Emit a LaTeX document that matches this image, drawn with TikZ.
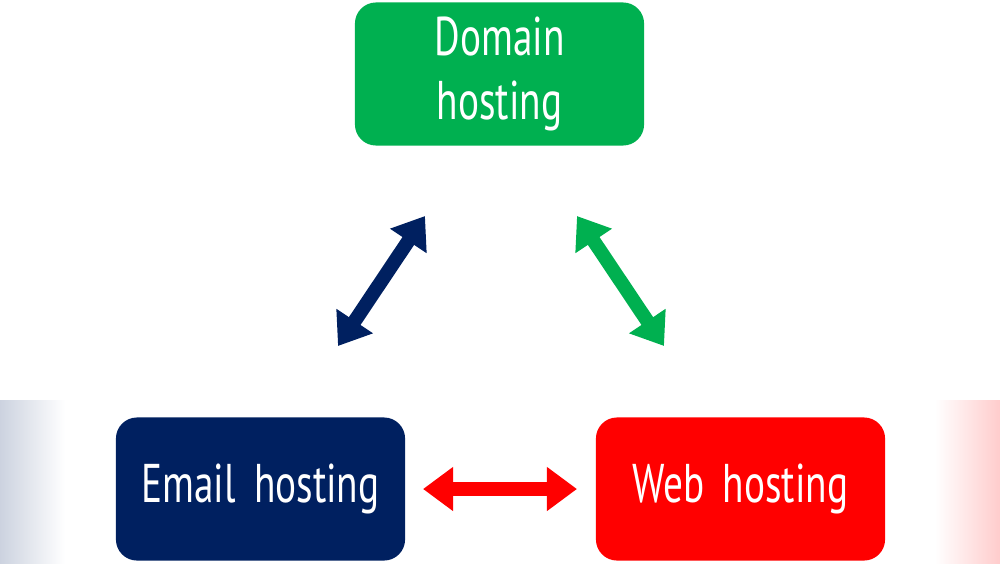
\documentclass[tikz,border=0pt]{standalone}
\usepackage{fontspec}
\setmainfont[FakeStretch=0.72]{PT Sans}
\usetikzlibrary{arrows.meta}
\definecolor{hostgreen}{RGB}{0,176,80}
\definecolor{hostnavy}{RGB}{0,32,96}
\definecolor{hostred}{RGB}{255,0,0}
\begin{document}
\begin{tikzpicture}[x=0.01cm,y=-0.01cm,
    host/.style={rounded corners=6pt,minimum width=2.89cm,minimum height=1.43cm,
                 text width=2.6cm,align=center,inner sep=0pt,
                 text=white,font=\fontsize{15.5pt}{18pt}\selectfont},
    link/.style={line width=0.14cm,{Triangle[width=0.42cm,length=0.3cm]}-{Triangle[width=0.42cm,length=0.3cm]}}]
\useasboundingbox (0,0) rectangle (1000,563);
% faint side glow
\shade[left color=hostnavy!20,right color=white] (0,400) rectangle (65,563);
\shade[left color=white,right color=hostred!20] (935,400) rectangle (1000,563);

\node[host,fill=hostgreen] (domain) at (499.5,74) {Domain hosting};
\node[host,fill=hostnavy]  (email)  at (260.5,489) {Email hosting};
\node[host,fill=hostred]   (web)    at (740.5,489) {Web hosting};

\coordinate (b1) at (338,346); \coordinate (b2) at (425,216);
\coordinate (g1) at (577,216); \coordinate (g2) at (664,346);
\coordinate (r1) at (423,489); \coordinate (r2) at (577,489);

\draw[link,hostnavy]  (b1) -- (b2);
\draw[link,hostgreen] (g1) -- (g2);
\draw[link,hostred]   (r1) -- (r2);
\end{tikzpicture}
\end{document}
